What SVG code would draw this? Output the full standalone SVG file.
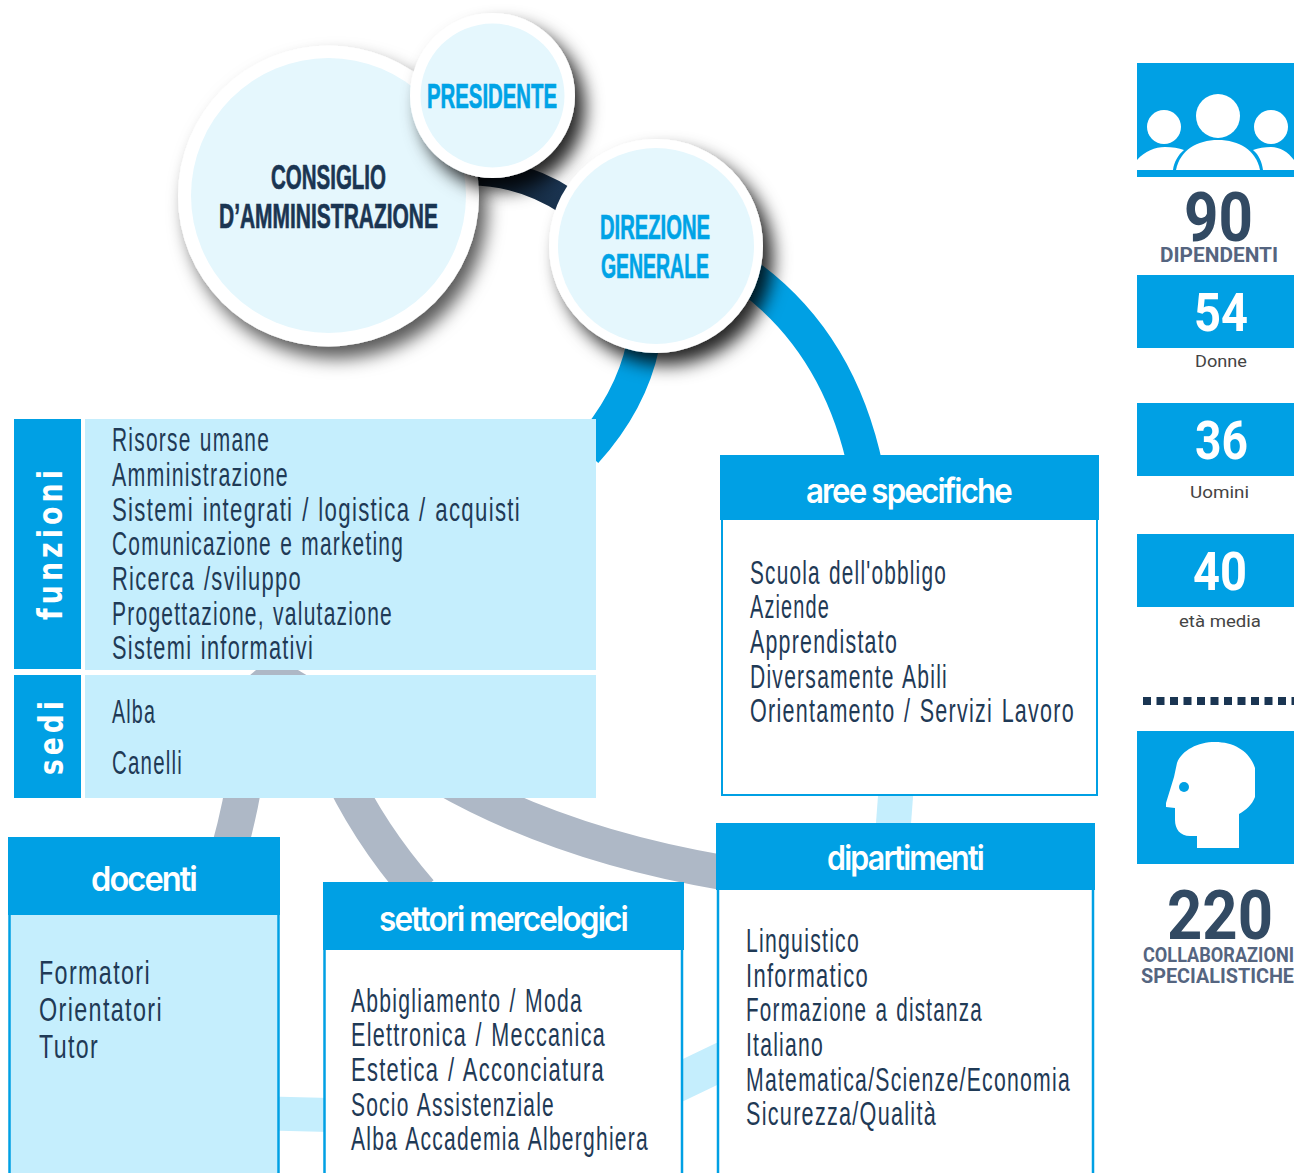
<svg xmlns="http://www.w3.org/2000/svg" width="1294" height="1173" viewBox="0 0 1294 1173">
<style>
.blue{fill:#00a0e4}
.pale{fill:#c5eefd}
.ln{font-family:"Liberation Sans",Arial,sans-serif;font-size:34px;letter-spacing:2px;word-spacing:2px;fill:#1f3a56}
.h{font-family:"Inter","Open Sans",sans-serif;font-weight:600;font-size:34px;letter-spacing:-2px;fill:#fff}
.v{font-family:"DejaVu Sans",sans-serif;font-weight:700;font-size:33px;letter-spacing:5px;fill:#fff}
.t{font-family:"Liberation Sans",Arial,sans-serif;font-weight:700;font-size:35px;stroke-width:.7px}
.dk{fill:#1a3552;stroke:#1a3552}
.cy{fill:#00a3e6;stroke:#00a3e6}
.n{font-family:"Roboto",sans-serif;font-weight:700;fill:#fff;font-size:53px}
.k{font-family:"Roboto",sans-serif;font-weight:700;fill:#324a63;font-size:68px}
.s{font-family:"Roboto",sans-serif;font-weight:700;fill:#556580;font-size:20px}
.m{font-family:"Roboto",sans-serif;font-size:17px;fill:#444}
.outer{fill:#fff;filter:url(#sh)}
.big{fill:#fff;filter:url(#sh2)}
.inner{fill:#e5f7fd}
</style>
<defs>
<filter id="sh" x="-30%" y="-30%" width="170%" height="170%"><feDropShadow dx="10" dy="12" stdDeviation="9" flood-color="#000" flood-opacity=".85"/></filter>
<filter id="sh2" x="-30%" y="-30%" width="170%" height="170%"><feDropShadow dx="8" dy="12" stdDeviation="9" flood-color="#000" flood-opacity=".65"/></filter>
<linearGradient id="dk" x1="0" x2="1" y1="0" y2="0"><stop offset="0" stop-color="#0c1a28"/><stop offset="1" stop-color="#1b3654"/></linearGradient>
</defs>
<rect width="1294" height="1173" fill="#fff"/>
<g id="connectors" fill="none">
<path d="M470,172Q522,172 568,202" stroke="url(#dk)" stroke-width="27"/>
<path d="M750,278Q840,345 866,470" stroke="#00a0e4" stroke-width="35"/>
<path d="M643,345Q631,402 586,452" stroke="#00a0e4" stroke-width="33"/>
<path d="M247,760Q243,800 229,850" stroke="#aeb8c6" stroke-width="36"/>
<path d="M335,760Q366,830 420,892" stroke="#aeb8c6" stroke-width="36"/>
<path d="M440,776Q560,845 725,873" stroke="#aeb8c6" stroke-width="35"/>
<path d="M249,676L256,670H298L308,676Z" fill="#aeb8c6"/>
<path d="M896,790L893,830" stroke="#c5eefd" stroke-width="35"/>
<path d="M675,1084L725,1060" stroke="#c5eefd" stroke-width="38"/>
<path d="M270,1113.500L330,1115" stroke="#c5eefd" stroke-width="34"/>
</g>
<g id="consiglio"><circle class="big" cx="328.500" cy="196" r="150.500"/><circle class="inner" cx="328.500" cy="195.500" r="137.500"/>
<text class="t dk" x="271" y="188.500" textLength="115" lengthAdjust="spacingAndGlyphs">CONSIGLIO</text>
<text class="t dk" x="219" y="227.500" textLength="219" lengthAdjust="spacingAndGlyphs">D’AMMINISTRAZIONE</text></g>
<g id="presidente"><circle class="outer" cx="492.500" cy="95.500" r="82.500"/><circle class="inner" cx="492.500" cy="95.500" r="72"/>
<text class="t cy" x="427" y="107.500" textLength="130" lengthAdjust="spacingAndGlyphs">PRESIDENTE</text></g>
<g id="direzione"><circle class="outer" cx="656" cy="246" r="107"/><circle class="inner" cx="656" cy="246" r="98"/>
<text class="t cy" x="600" y="238.500" textLength="110" lengthAdjust="spacingAndGlyphs">DIREZIONE</text>
<text class="t cy" x="601" y="277.500" textLength="108" lengthAdjust="spacingAndGlyphs">GENERALE</text></g>
<g id="funzioni"><rect class="blue" x="14" y="419" width="67" height="250"/><rect class="pale" x="85" y="419" width="511" height="251"/>
<text class="v" transform="translate(62,620) rotate(-90)" textLength="154" lengthAdjust="spacingAndGlyphs">funzioni</text>
<text class="ln" x="112" y="451" textLength="158" lengthAdjust="spacingAndGlyphs">Risorse umane</text>
<text class="ln" x="112" y="486" textLength="177" lengthAdjust="spacingAndGlyphs">Amministrazione</text>
<text class="ln" x="112" y="521" textLength="409" lengthAdjust="spacingAndGlyphs">Sistemi integrati / logistica / acquisti</text>
<text class="ln" x="112" y="555" textLength="292" lengthAdjust="spacingAndGlyphs">Comunicazione e marketing</text>
<text class="ln" x="112" y="590" textLength="190" lengthAdjust="spacingAndGlyphs">Ricerca /sviluppo</text>
<text class="ln" x="112" y="625" textLength="281" lengthAdjust="spacingAndGlyphs">Progettazione, valutazione</text>
<text class="ln" x="112" y="659" textLength="202" lengthAdjust="spacingAndGlyphs">Sistemi informativi</text></g>
<g id="sedi"><rect class="blue" x="14" y="675" width="67" height="123"/><rect class="pale" x="85" y="675" width="511" height="123"/>
<text class="v" transform="translate(63,775) rotate(-90)" textLength="78" lengthAdjust="spacingAndGlyphs">sedi</text>
<text class="ln" x="112" y="723" textLength="44" lengthAdjust="spacingAndGlyphs">Alba</text>
<text class="ln" x="112" y="774" textLength="71" lengthAdjust="spacingAndGlyphs">Canelli</text></g>
<g id="aree"><rect x="722" y="500" width="375" height="295" fill="#fff" stroke="#00a0e4" stroke-width="2"/><rect class="blue" x="720" y="455" width="379" height="65"/>
<text class="h" x="806" y="503" textLength="205" lengthAdjust="spacingAndGlyphs">aree specifiche</text>
<text class="ln" x="750" y="584" textLength="197" lengthAdjust="spacingAndGlyphs">Scuola dell'obbligo</text>
<text class="ln" x="750" y="618" textLength="80" lengthAdjust="spacingAndGlyphs">Aziende</text>
<text class="ln" x="750" y="653" textLength="148" lengthAdjust="spacingAndGlyphs">Apprendistato</text>
<text class="ln" x="750" y="688" textLength="198" lengthAdjust="spacingAndGlyphs">Diversamente Abili</text>
<text class="ln" x="750" y="722" textLength="325" lengthAdjust="spacingAndGlyphs">Orientamento / Servizi Lavoro</text></g>
<g id="dipartimenti"><rect x="718" y="870" width="375" height="320" fill="#fff" stroke="#00a0e4" stroke-width="2.500"/><rect class="blue" x="716" y="823" width="379" height="67"/>
<text class="h" x="827" y="870" textLength="156" lengthAdjust="spacingAndGlyphs">dipartimenti</text>
<text class="ln" x="746" y="952" textLength="114" lengthAdjust="spacingAndGlyphs">Linguistico</text>
<text class="ln" x="746" y="987" textLength="123" lengthAdjust="spacingAndGlyphs">Informatico</text>
<text class="ln" x="746" y="1021" textLength="237" lengthAdjust="spacingAndGlyphs">Formazione a distanza</text>
<text class="ln" x="746" y="1056" textLength="78" lengthAdjust="spacingAndGlyphs">Italiano</text>
<text class="ln" x="746" y="1091" textLength="325" lengthAdjust="spacingAndGlyphs">Matematica/Scienze/Economia</text>
<text class="ln" x="746" y="1125" textLength="191" lengthAdjust="spacingAndGlyphs">Sicurezza/Qualità</text></g>
<g id="docenti"><rect x="9.500" y="900" width="269" height="290" fill="#c5eefd" stroke="#00a0e4" stroke-width="2.500"/><rect class="blue" x="8" y="837" width="272" height="78"/>
<text class="h" x="91" y="891" textLength="105" lengthAdjust="spacingAndGlyphs">docenti</text>
<text class="ln" x="39" y="984" textLength="112" lengthAdjust="spacingAndGlyphs">Formatori</text>
<text class="ln" x="39" y="1021" textLength="124" lengthAdjust="spacingAndGlyphs">Orientatori</text>
<text class="ln" x="39" y="1058" textLength="60" lengthAdjust="spacingAndGlyphs">Tutor</text></g>
<g id="settori"><rect x="324.500" y="930" width="357.500" height="260" fill="#fff" stroke="#00a0e4" stroke-width="2.500"/><rect class="blue" x="323" y="882" width="361" height="68"/>
<text class="h" x="379" y="931" textLength="248" lengthAdjust="spacingAndGlyphs">settori mercelogici</text>
<text class="ln" x="351" y="1012" textLength="232" lengthAdjust="spacingAndGlyphs">Abbigliamento / Moda</text>
<text class="ln" x="351" y="1046" textLength="255" lengthAdjust="spacingAndGlyphs">Elettronica / Meccanica</text>
<text class="ln" x="351" y="1081" textLength="254" lengthAdjust="spacingAndGlyphs">Estetica / Acconciatura</text>
<text class="ln" x="351" y="1116" textLength="204" lengthAdjust="spacingAndGlyphs">Socio Assistenziale</text>
<text class="ln" x="351" y="1150" textLength="298" lengthAdjust="spacingAndGlyphs">Alba Accademia Alberghiera</text></g>
<g id="stat-dipendenti"><rect class="blue" x="1137" y="63" width="157" height="114"/>
<g fill="#fff"><circle cx="1218" cy="116" r="22"/><circle cx="1164" cy="127" r="17"/><circle cx="1271" cy="127" r="17"/>
<path d="M1176,170C1180,150 1197,140 1218,140C1239,140 1256,150 1260,170Z"/>
<path d="M1137,170V160C1145,151 1155,147 1165,147C1172,147 1179,148 1184,150C1178,155 1174,162 1173,170Z"/>
<path d="M1294,170V160C1288,152 1280,147 1271,147C1265,147 1258,148 1253,150C1259,155 1262,162 1263,170Z"/></g>
<text class="k" x="1184" y="241" textLength="69" lengthAdjust="spacingAndGlyphs">90</text>
<text class="s" x="1160" y="262" textLength="118" lengthAdjust="spacingAndGlyphs">DIPENDENTI</text></g>
<g id="stat-donne"><rect class="blue" x="1137" y="275" width="157" height="73"/><text class="n" x="1194" y="331" textLength="54" lengthAdjust="spacingAndGlyphs">54</text><text class="m" x="1195" y="367" textLength="52" lengthAdjust="spacingAndGlyphs">Donne</text></g>
<g id="stat-uomini"><rect class="blue" x="1137" y="403" width="157" height="73"/><text class="n" x="1195" y="459" textLength="53" lengthAdjust="spacingAndGlyphs">36</text><text class="m" x="1190" y="498" textLength="59" lengthAdjust="spacingAndGlyphs">Uomini</text></g>
<g id="stat-eta"><rect class="blue" x="1137" y="534" width="157" height="73"/><text class="n" x="1193" y="590" textLength="54" lengthAdjust="spacingAndGlyphs">40</text><text class="m" x="1179" y="627" textLength="82" lengthAdjust="spacingAndGlyphs">età media</text></g>
<path id="divider" d="M1143,701H1294" stroke="#1a3552" stroke-width="8" stroke-dasharray="8 5.500" fill="none"/>
<g id="stat-collaborazioni"><rect class="blue" x="1137" y="731" width="157" height="133"/>
<path d="M1215,742C1235,742 1250,752 1255,768V797C1252,805 1246,810 1239,814V848H1197V836H1190C1180,836 1175,829 1175,820V808L1166,807V803L1174,777L1177,763C1182,750 1198,742 1215,742Z" fill="#fff"/><circle cx="1184" cy="787" r="5" fill="#00a0e4"/>
<text class="k" x="1167" y="939" textLength="106" lengthAdjust="spacingAndGlyphs">220</text>
<text class="s" x="1143" y="962" textLength="151" lengthAdjust="spacingAndGlyphs">COLLABORAZIONI</text>
<text class="s" x="1141" y="983" textLength="153" lengthAdjust="spacingAndGlyphs">SPECIALISTICHE</text></g>
</svg>
